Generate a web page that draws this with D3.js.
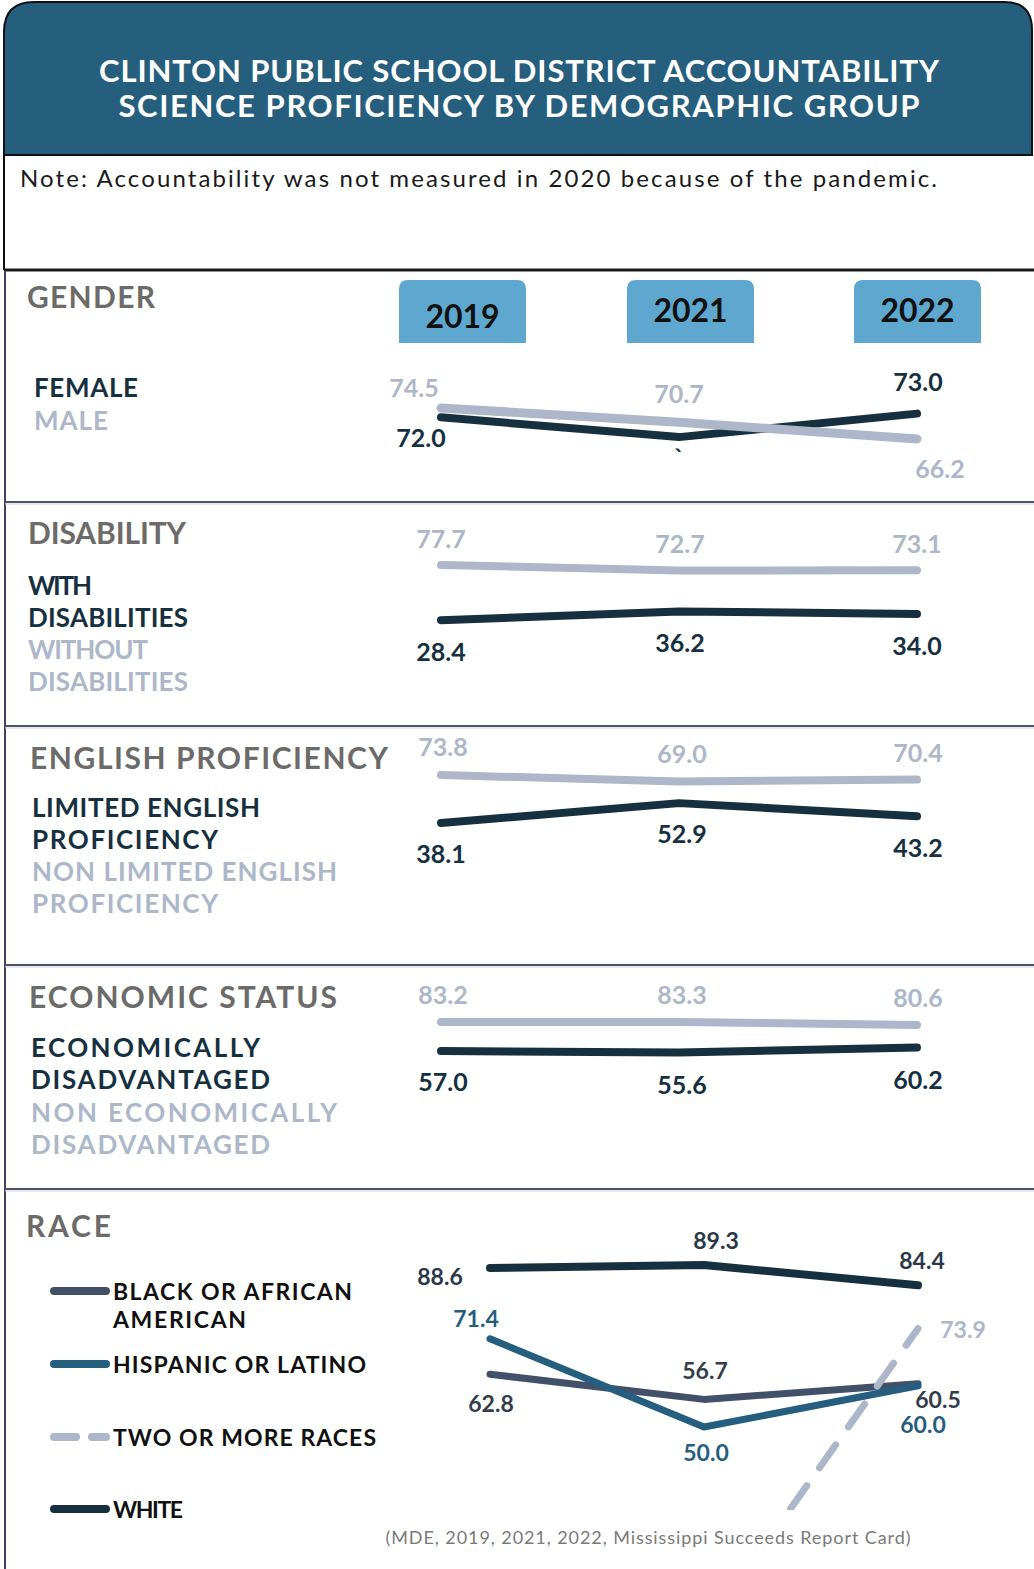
<!DOCTYPE html>
<html>
<head>
<meta charset="utf-8">
<script src="https://cdn.jsdelivr.net/npm/d3@7"></script>
<style>
  body { margin: 0; background: #fff; }
  svg { display: block; font-family: Lato, "Open Sans", sans-serif; }
</style>
</head>
<body>
<svg id="chart"></svg>
<script>
const years = ["2019", "2021", "2022"];

const female = [72.0, 66.7, 73.0];
const femaleLabels = ["72.0", "`", "73.0"];
const male = [74.5, 70.7, 66.2];

const withDisabilities = [28.4, 36.2, 34.0];
const withoutDisabilities = [77.7, 72.7, 73.1];

const limitedEnglish = [38.1, 52.9, 43.2];
const nonLimitedEnglish = [73.8, 69.0, 70.4];

const econDisadvantaged = [57.0, 55.6, 60.2];
const nonEconDisadvantaged = [83.2, 83.3, 80.6];

const raceBlack = [62.8, 56.7, 60.5];
const raceHispanic = [71.4, 50.0, 60.0];
const raceTwoOrMore = [null, 0.5, 73.9];
const raceTwoOrMoreLabels = ["", "", "73.9"];
const raceWhite = [88.6, 89.3, 84.4];

const raceNames = ["BLACK OR AFRICAN\nAMERICAN", "HISPANIC OR LATINO", "TWO OR MORE RACES", "WHITE"];

// ---- colours ----
const DARK = "#16303f";
const LIGHT = "#adb7c9";
const SLATE = "#43506a";
const TEAL = "#255e7e";
const HEAD = "#265f7e";
const YEARBOX = "#5ea8d0";
const GREY = "#6d6a6a";

const W = 1034, H = 1569;
const svg = d3.select("#chart").attr("width", W).attr("height", H);
const fmt = d3.format(".1f");

// header
svg.append("path")
    .attr("d", "M4,155 V32 Q4,2 34,2 H1004 Q1032,2 1032,30 V155 Z")
    .attr("fill", HEAD).attr("stroke", "#111").attr("stroke-width", 2);

const titleLines = [
    {t: "CLINTON PUBLIC SCHOOL DISTRICT ACCOUNTABILITY", y: 70, w: 840},
    {t: "SCIENCE PROFICIENCY BY DEMOGRAPHIC GROUP", y: 105, w: 801}
];
svg.selectAll(".title").data(titleLines).join("text")
    .attr("x", 519).attr("y", d => d.y)
    .attr("text-anchor", "middle").attr("dominant-baseline", "central")
    .attr("fill", "#fff").attr("font-size", 31).attr("font-weight", 700)
    .attr("textLength", d => d.w).attr("lengthAdjust", "spacing")
    .text(d => d.t);

// note box
svg.append("line").attr("x1", 4).attr("x2", 4).attr("y1", 155).attr("y2", 270)
    .attr("stroke", "#111").attr("stroke-width", 2);
svg.append("line").attr("x1", 4).attr("x2", W).attr("y1", 270).attr("y2", 270)
    .attr("stroke", "#1a1a1a").attr("stroke-width", 3);
svg.append("text")
    .attr("x", 20).attr("y", 177).attr("dominant-baseline", "central")
    .attr("font-size", 24).attr("fill", "#1a1a1a")
    .attr("textLength", 917).attr("lengthAdjust", "spacing")
    .text("Note: Accountability was not measured in 2020 because of the pandemic.");

// frame left + section separators
svg.append("line").attr("x1", 5).attr("x2", 5).attr("y1", 271).attr("y2", H)
    .attr("stroke", "#3d4559").attr("stroke-width", 2);
[502, 726, 965, 1189].forEach(y => {
    svg.append("line").attr("x1", 5).attr("x2", W).attr("y1", y).attr("y2", y)
        .attr("stroke", "#4b5368").attr("stroke-width", 2);
    svg.append("line").attr("x1", 5).attr("x2", W).attr("y1", y + 2).attr("y2", y + 2)
        .attr("stroke", "#d0d4db").attr("stroke-width", 1);
});

// year tabs
const tabs = [{x: 399, ty: 315}, {x: 627, ty: 309}, {x: 854, ty: 309}];
tabs.forEach((t, i) => {
    const x0 = t.x, x1 = t.x + 127, y0 = 280, y1 = 343, r = 9;
    svg.append("path")
        .attr("d", `M${x0},${y1} V${y0 + r} Q${x0},${y0} ${x0 + r},${y0} H${x1 - r} Q${x1},${y0} ${x1},${y0 + r} V${y1} Z`)
        .attr("fill", YEARBOX);
    svg.append("text")
        .attr("x", (x0 + x1) / 2).attr("y", t.ty)
        .attr("text-anchor", "middle").attr("dominant-baseline", "central")
        .attr("font-size", 32).attr("font-weight", 700).attr("fill", "#111")
        .text(years[i]);
});

// ---- panels ----
const panels = [
    {
        title: "GENDER", titleY: 296, titleX: 27, titleW: 128,
        groupX: 34,
        groups: [{t: "FEMALE", y: 387, w: 104, c: DARK}, {t: "MALE", y: 420, w: 74, c: LIGHT}],
        xr: [441, 917], domain: [60, 80], range: [462.1, 387.5], fs: 25,
        series: [
            {values: female, labels: femaleLabels, color: DARK, width: 8, lc: DARK,
             off: [[-20, 20], [0, 20], [1, -33]]},
            {values: male, color: LIGHT, width: 9, lc: LIGHT,
             off: [[-27, -21], [0, -29], [23, 29]]}
        ]
    },
    {
        title: "DISABILITY", titleY: 532, titleX: 28, titleW: 158,
        groupX: 28,
        groups: [{t: "WITH", y: 585, w: 64, c: DARK}, {t: "DISABILITIES", y: 617, w: 160, c: DARK},
                 {t: "WITHOUT", y: 649, w: 120, c: LIGHT}, {t: "DISABILITIES", y: 681, w: 160, c: LIGHT}],
        xr: [441, 917], domain: [20, 80], range: [629.6, 562.4], fs: 25,
        series: [
            {values: withoutDisabilities, color: LIGHT, width: 8, lc: LIGHT,
             off: [[0, -27], [1, -28], [0, -27]]},
            {values: withDisabilities, color: DARK, width: 8, lc: DARK,
             off: [[0, 31], [1, 31], [0, 31]]}
        ]
    },
    {
        title: "ENGLISH PROFICIENCY", titleY: 757, titleX: 30, titleW: 358,
        groupX: 32,
        groups: [{t: "LIMITED ENGLISH", y: 807, w: 228, c: DARK}, {t: "PROFICIENCY", y: 839, w: 186, c: DARK},
                 {t: "NON LIMITED ENGLISH", y: 871, w: 305, c: LIGHT}, {t: "PROFICIENCY", y: 903, w: 186, c: LIGHT}],
        xr: [441, 917], domain: [30, 80], range: [833.9, 766.7], fs: 25,
        series: [
            {values: nonLimitedEnglish, color: LIGHT, width: 8, lc: LIGHT,
             off: [[2, -29], [3, -28], [1, -28]]},
            {values: limitedEnglish, color: DARK, width: 8, lc: DARK,
             off: [[0, 30], [3, 30], [1, 31]]}
        ]
    },
    {
        title: "ECONOMIC STATUS", titleY: 996, titleX: 29, titleW: 308,
        groupX: 31,
        groups: [{t: "ECONOMICALLY", y: 1047, w: 229, c: DARK}, {t: "DISADVANTAGED", y: 1079, w: 239, c: DARK},
                 {t: "NON ECONOMICALLY", y: 1112, w: 306, c: LIGHT}, {t: "DISADVANTAGED", y: 1144, w: 239, c: LIGHT}],
        xr: [441, 917], domain: [50, 90], range: [1058.8, 1014.5], fs: 25,
        series: [
            {values: nonEconDisadvantaged, color: LIGHT, width: 8, lc: LIGHT,
             off: [[2, -28], [3, -28], [1, -28]]},
            {values: econDisadvantaged, color: DARK, width: 8, lc: DARK,
             off: [[2, 30], [3, 31], [1, 31]]}
        ]
    },
    {
        title: "RACE", titleY: 1225, titleX: 26, titleW: 85,
        groupX: 0, groups: [],
        xr: [490, 918], domain: [0, 100], range: [1633, 1221], clip: [1215, 1510], fs: 23,
        series: [
            {values: raceWhite, color: DARK, width: 8, lc: "#2b3848",
             off: [[-50, 8], [12, -25], [4, -25]]},
            {values: raceBlack, color: SLATE, width: 7, lc: "#353d4d",
             off: [[1, 29], [1, -29], [20, 15]]},
            {values: raceHispanic, color: TEAL, width: 7, lc: TEAL,
             off: [[-14, -21], [2, 25], [5, 38]]},
            {values: raceTwoOrMore, labels: raceTwoOrMoreLabels, color: LIGHT, width: 7, lc: LIGHT,
             dash: "28 22", off: [[0, 0], [0, 0], [45, 0]]}
        ]
    }
];

panels.forEach((p, pi) => {
    const g = svg.append("g");

    g.append("text")
        .attr("x", p.titleX).attr("y", p.titleY).attr("dominant-baseline", "central")
        .attr("font-size", 30).attr("font-weight", 700).attr("fill", GREY)
        .attr("textLength", p.titleW).attr("lengthAdjust", "spacing")
        .text(p.title);

    g.selectAll(".grp").data(p.groups).join("text")
        .attr("x", p.groupX).attr("y", d => d.y).attr("dominant-baseline", "central")
        .attr("font-size", 26).attr("font-weight", 700).attr("fill", d => d.c)
        .attr("textLength", d => d.w).attr("lengthAdjust", "spacing")
        .text(d => d.t);

    const x = d3.scalePoint().domain(years).range(p.xr);
    const y = d3.scaleLinear().domain(p.domain).range(p.range);

    let lineLayer = g.append("g");
    if (p.clip) {
        const id = "clip" + pi;
        svg.append("clipPath").attr("id", id).append("rect")
            .attr("x", 0).attr("y", p.clip[0]).attr("width", W).attr("height", p.clip[1] - p.clip[0]);
        lineLayer.attr("clip-path", `url(#${id})`);
    }

    const line = d3.line()
        .defined(d => d.v != null)
        .x(d => x(d.year)).y(d => y(d.v));

    p.series.forEach(s => {
        const pts = years.map((yr, i) => ({year: yr, v: s.values[i]}));
        lineLayer.append("path")
            .datum(pts)
            .attr("d", line)
            .attr("fill", "none").attr("stroke", s.color).attr("stroke-width", s.width)
            .attr("stroke-linecap", "round").attr("stroke-linejoin", "round")
            .attr("stroke-dasharray", s.dash || null);
    });

    p.series.forEach(s => {
        const pts = years.map((yr, i) => ({
            year: yr, v: s.values[i],
            label: s.labels ? s.labels[i] : fmt(s.values[i]), off: s.off[i]
        })).filter(d => d.v != null && d.label !== "");
        g.selectAll(null).data(pts).join("text")
            .attr("x", d => x(d.year) + d.off[0])
            .attr("y", d => y(d.v) + d.off[1])
            .attr("text-anchor", "middle").attr("dominant-baseline", "central")
            .attr("font-size", p.fs).attr("font-weight", 700).attr("fill", s.lc)
            .text(d => d.label);
    });
});

// race legend
const legend = [
    {name: raceNames[0], y: 1291, color: SLATE, dash: null, w: [239, 133]},
    {name: raceNames[1], y: 1364, color: TEAL, dash: null, w: [253]},
    {name: raceNames[2], y: 1437, color: LIGHT, dash: "22 16", w: [263]},
    {name: raceNames[3], y: 1509, color: DARK, dash: null, w: [70]}
];
legend.forEach(l => {
    svg.append("line")
        .attr("x1", 54).attr("x2", 106).attr("y1", l.y).attr("y2", l.y)
        .attr("stroke", l.color).attr("stroke-width", 8).attr("stroke-linecap", "round")
        .attr("stroke-dasharray", l.dash);
    l.name.split("\n").forEach((t, i) => {
        svg.append("text")
            .attr("x", 113).attr("y", l.y + i * 28).attr("dominant-baseline", "central")
            .attr("font-size", 23).attr("font-weight", 700).attr("fill", "#111")
            .attr("textLength", l.w[i]).attr("lengthAdjust", "spacing")
            .text(t);
    });
});

// source
svg.append("text")
    .attr("x", 648).attr("y", 1537).attr("text-anchor", "middle").attr("dominant-baseline", "central")
    .attr("font-size", 18).attr("fill", "#7a7a7a")
    .attr("textLength", 525).attr("lengthAdjust", "spacing")
    .text("(MDE, 2019, 2021, 2022, Mississippi  Succeeds Report Card)");
</script>
</body>
</html>
